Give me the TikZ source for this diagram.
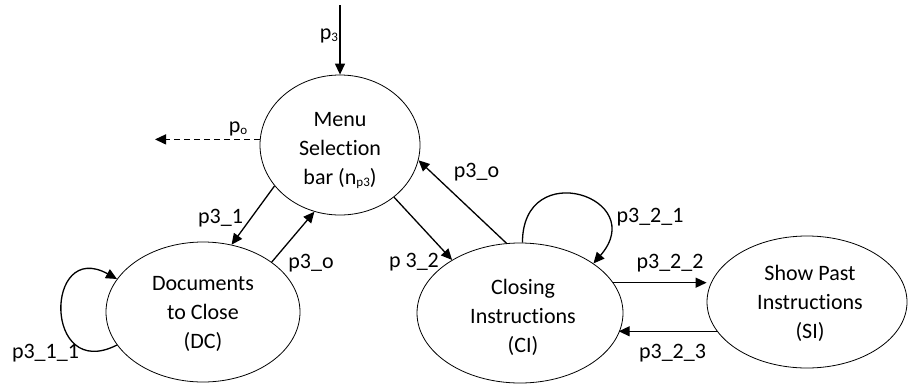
\documentclass[tikz,border=0pt]{standalone}
\usepackage{fontspec}
\setmainfont{Carlito}[Ligatures={NoCommon,NoContextual}]
\usetikzlibrary{arrows.meta,shapes.geometric}
% small lowered index, as in p_3 or n_{p3}
\newcommand\lowx[1]{\raisebox{-2pt}{\fontsize{13}{13}\selectfont #1}}
% "Instructions" with t and i set as separate letters
\newcommand\instr{Instruct\kern0pt ions}
\begin{document}
\begin{tikzpicture}[x=1pt,y=1pt,
  font=\fontsize{22}{29}\selectfont,
  state/.style={draw=black, line width=0.8pt, ellipse, inner sep=0pt},
  statetext/.style={align=center, inner sep=0pt},
  lab/.style={anchor=base, inner sep=0pt},
  arr/.style={line width=1.3pt, -{Triangle[length=11pt,width=10pt]}},
  dasharr/.style={arr, dash pattern=on 6pt off 4pt}]
\useasboundingbox (0,0) rectangle (909,-386);

% states
\node[state, minimum width=160, minimum height=140] (menu) at (340,-145) {};
\node[state, minimum width=194, minimum height=140] (dc)   at (203,-312) {};
\node[state, minimum width=206, minimum height=140] (ci)   at (520,-313) {};
\node[state, minimum width=200, minimum height=132] (si)   at (807,-302) {};

\node[statetext] (menu-t) at (340,-150) {Menu\\Selection\\bar (n\lowx{p3})};
\node[statetext] (dc-t)   at (203,-313.5) {Documents\\to Close\\(DC)};
\node[statetext] (ci-t)   at (523,-317) {Closing\\\instr\\(CI)};
\node[statetext] (si-t)   at (810,-303) {Show Past\\\instr\\(SI)};

% entry and exit points
\coordinate (entry) at (340,-5);
\coordinate (exit)  at (155,-140);

% transitions
\draw[arr] (entry) -- (menu.north);
\draw[dasharr] (menu.176) -- (menu.176 -| exit);
\draw[arr] (menu.212) -- (dc.67);
\draw[arr] (dc.36) -- (menu.249);
\draw[arr] (menu.316) -- (ci.142);
\draw[arr] (ci.101) -- (menu.349);
\draw[arr] (ci.88) to[out=90, in=49, distance=87pt] (ci.34);
\draw[arr] (dc.201) to[out=207, in=151, distance=83pt] (dc.159);
\draw[arr] (ci.18.6) -- (ci.18.6 -| si.west);
\draw[arr] (si.198.6) -- (si.198.6 -| ci.348.5);

% transition labels
\node[lab] (l-in)    at (329,-39)   {p\lowx{3}};
\node[lab] (l-out)   at (238,-132)  {p\lowx{o}};
\node[lab] (l-31)    at (220.5,-223) {p3\_1};
\node[lab] (l-dco)   at (311,-268)  {p3\_o};
\node[lab] (l-32)    at (414,-267)  {p 3\_2};
\node[lab] (l-cio)   at (476.5,-177) {p3\_o};
\node[lab] (l-321)   at (650,-222)  {p3\_2\_1};
\node[lab] (l-322)   at (670,-268)  {p3\_2\_2};
\node[lab] (l-323)   at (672.5,-358) {p3\_2\_3};
\node[lab] (l-311)   at (45.5,-358) {p3\_1\_1};
\end{tikzpicture}
\end{document}
